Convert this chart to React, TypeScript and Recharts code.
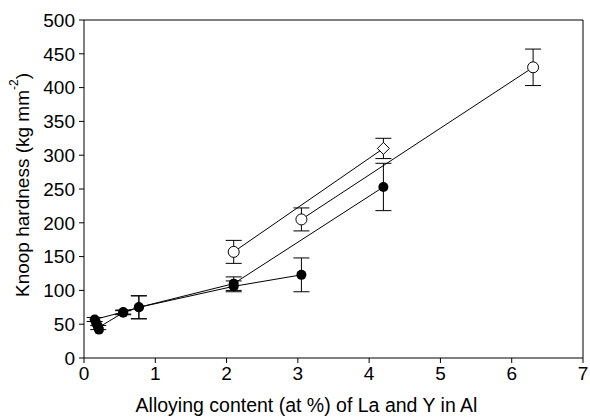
import {
  ComposedChart,
  Scatter,
  XAxis,
  YAxis,
  ErrorBar,
  ReferenceLine,
} from 'recharts';

// filled circles, branch ending at 4.2 at%
const filledAX = [0.15, 0.55, 0.77, 2.1, 4.2];
const filledAY = [57, 68, 75, 110, 253];
const filledAErr = [3, 3, 17, 10, 35];

// filled circles, branch ending at 3.05 at%
const filledBX = [0.2, 0.55, 0.77, 2.1, 3.05];
const filledBY = [45, 67, 75, 106, 123];
const filledBErr = [3, 3, 17, 8, 25];

// extra filled points in the low-content cluster
const clusterX = [0.17, 0.19, 0.21];
const clusterY = [52, 48, 42];

// open circle -> open diamond line
const upperX = [2.1, 4.2];
const upperY = [157, 310];
const upperErr = [17, 15];

// open circles line
const openX = [3.05, 6.3];
const openY = [205, 430];
const openErr = [17, 27];

const xTicks = [0, 1, 2, 3, 4, 5, 6, 7];
const yTicks = [0, 50, 100, 150, 200, 250, 300, 350, 400, 450, 500];

const toRows = (xs: number[], ys: number[], errs?: number[]) =>
  xs.map((x, i) => ({ x, y: ys[i], err: errs ? errs[i] : 0 }));

const filledA = toRows(filledAX, filledAY, filledAErr);
const filledB = toRows(filledBX, filledBY, filledBErr);
const cluster = toRows(clusterX, clusterY);
const upper = toRows(upperX, upperY, upperErr);
const open = toRows(openX, openY, openErr);
const openCircles = [upper[0], ...open];
const diamonds = [upper[1]];

const FONT = '"Liberation Sans", Arial, sans-serif';

const Filled = (p: any) => <circle cx={p.cx} cy={p.cy} r={5} fill="#000" />;
const OpenCircle = (p: any) => (
  <circle cx={p.cx} cy={p.cy} r={5.5} fill="#fff" stroke="#000" strokeWidth={1} />
);
const Diamond = (p: any) => (
  <path
    d={`M${p.cx},${p.cy - 6} L${p.cx + 6},${p.cy} L${p.cx},${p.cy + 6} L${p.cx - 6},${p.cy} Z`}
    fill="#fff"
    stroke="#000"
    strokeWidth={1}
  />
);
const Nothing = () => <g />;

const YLabel = (props: any) => {
  const vb = props.viewBox;
  const cx = vb.x + 22;
  const cy = vb.y + vb.height / 2 - 4;
  return (
    <text
      x={cx}
      y={cy}
      transform={`rotate(-90 ${cx} ${cy})`}
      textAnchor="middle"
      dominantBaseline="central"
      fontFamily={FONT}
      fontSize={19}
      fill="#000"
    >
      Knoop hardness (kg mm
      <tspan dy={-8} fontSize={12}>-2</tspan>
      <tspan dy={8}>)</tspan>
    </text>
  );
};

const XLabel = (props: any) => {
  const vb = props.viewBox;
  return (
    <text
      x={vb.x + vb.width / 2 - 27}
      y={vb.y + 47}
      textAnchor="middle"
      dominantBaseline="central"
      fontFamily={FONT}
      fontSize={19.5}
      fill="#000"
    >
      Alloying content (at %) of La and Y in Al
    </text>
  );
};

export default function App() {
  return (
    <div>
      <style>{'body{margin:0}'}</style>
      <ComposedChart
        width={590}
        height={417}
        margin={{ top: 20, right: 7, left: 0, bottom: 0 }}
      >
        <XAxis
          type="number"
          dataKey="x"
          domain={[0, 7]}
          ticks={xTicks}
          interval={0}
          allowDataOverflow
          height={59}
          stroke="#000"
          tickSize={5}
          tickMargin={4}
          tick={{ fill: '#000', fontSize: 19, fontFamily: FONT }}
          label={{ content: XLabel }}
        />
        <YAxis
          type="number"
          dataKey="y"
          domain={[0, 500]}
          ticks={yTicks}
          interval={0}
          allowDataOverflow
          width={84}
          stroke="#000"
          tickSize={5}
          tickMargin={4}
          tick={{ fill: '#000', fontSize: 19, fontFamily: FONT }}
          label={{ content: YLabel }}
        />
        <ReferenceLine y={500} stroke="#000" strokeWidth={1} />
        <ReferenceLine x={7} stroke="#000" strokeWidth={1} />

        <Scatter data={filledA} line={{ stroke: '#000', strokeWidth: 1 }} shape={Filled} isAnimationActive={false}>
          <ErrorBar dataKey="err" direction="y" width={8} stroke="#000" strokeWidth={1} />
        </Scatter>
        <Scatter data={filledB} line={{ stroke: '#000', strokeWidth: 1 }} shape={Filled} isAnimationActive={false}>
          <ErrorBar dataKey="err" direction="y" width={8} stroke="#000" strokeWidth={1} />
        </Scatter>
        <Scatter data={cluster} shape={Filled} isAnimationActive={false} />
        <Scatter data={upper} line={{ stroke: '#000', strokeWidth: 1 }} shape={Nothing} isAnimationActive={false}>
          <ErrorBar dataKey="err" direction="y" width={8} stroke="#000" strokeWidth={1} />
        </Scatter>
        <Scatter data={open} line={{ stroke: '#000', strokeWidth: 1 }} shape={Nothing} isAnimationActive={false}>
          <ErrorBar dataKey="err" direction="y" width={8} stroke="#000" strokeWidth={1} />
        </Scatter>
        <Scatter data={openCircles} shape={OpenCircle} isAnimationActive={false} />
        <Scatter data={diamonds} shape={Diamond} isAnimationActive={false} />
      </ComposedChart>
    </div>
  );
}
